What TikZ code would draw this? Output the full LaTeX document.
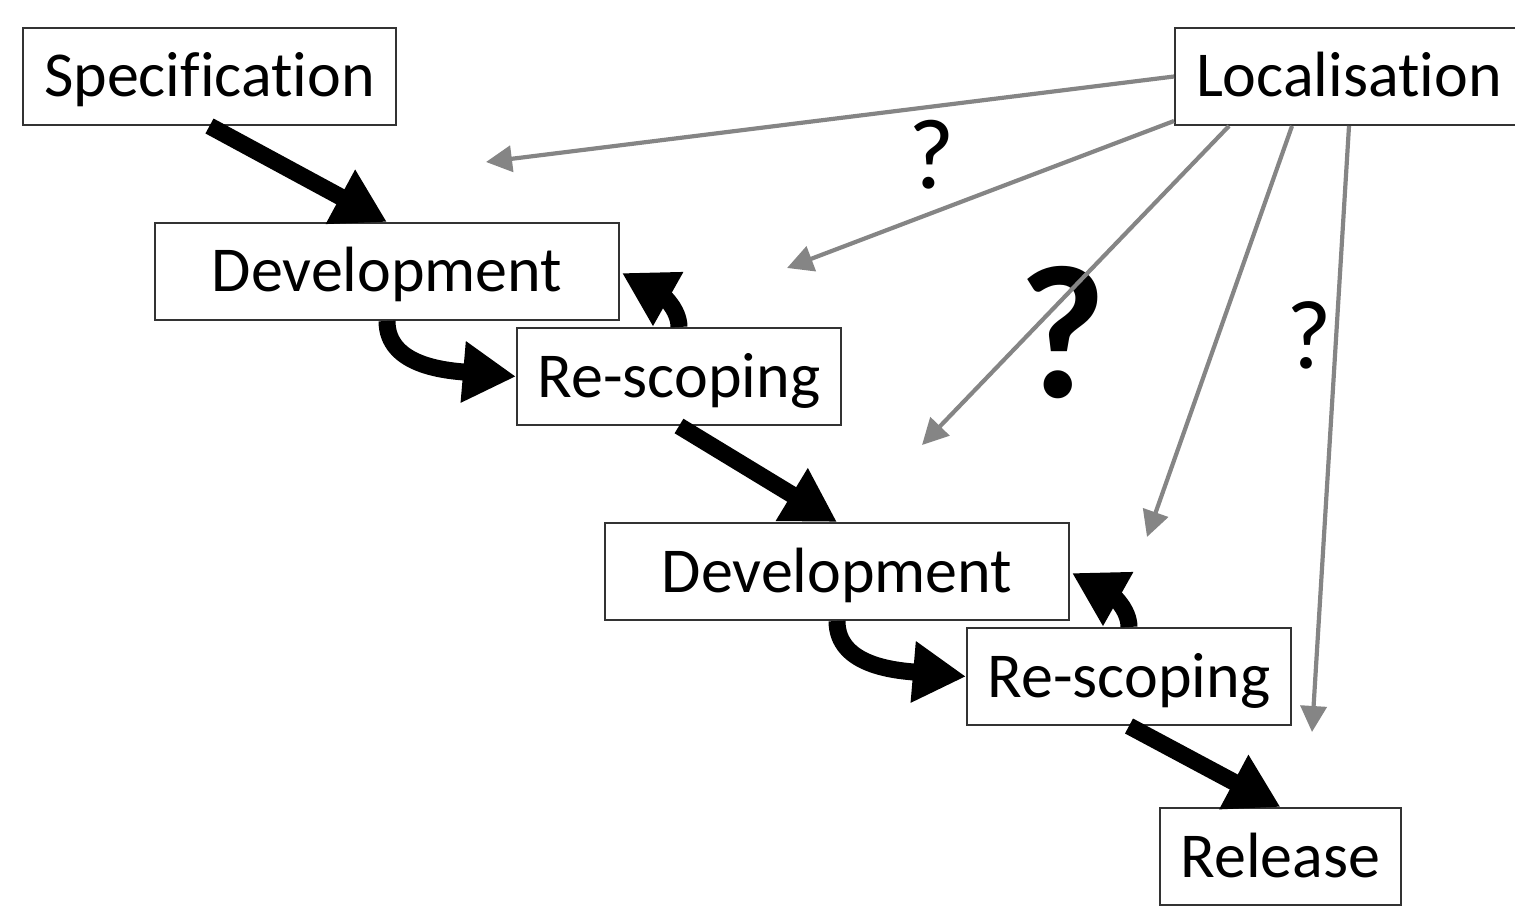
\documentclass[tikz,border=0pt]{standalone}
\usepackage{fontspec}
\setmainfont[Ligatures=NoCommon]{Carlito}
\usetikzlibrary{arrows.meta,calc}
\tikzset{
  box/.style={draw=black!80, line width=2pt, minimum height=97pt, inner sep=0pt,
    text height=50pt, text depth=9pt,
    font=\fontsize{64}{72}\selectfont},
  bigarrow/.style={line width=17pt, -{Triangle[length=53pt,width=58pt]}},
  greyarrow/.style={draw=black!48, line width=4.2pt, -{Triangle[length=26pt,width=26pt]}, color=black!48},
  qmark/.style={inner sep=0pt, anchor=center},
}
\begin{document}
\begin{tikzpicture}[x=1pt,y=-1pt]
\useasboundingbox (0,0) rectangle (1515,909);
% boxes
\node[box, minimum width=373pt] (spec) at (209.5,76.5) {Specification};
\node[box, minimum width=348pt] (loc) at (1349,76.5) {Localisation};
\node[box, minimum width=464pt] (dev1) at (387,271.5) {Development};
\node[box, minimum width=324pt] (rs1) at (679,376.5) {Re-scoping};
\node[box, minimum width=464pt] (dev2) at (837,571.5) {Development};
\node[box, minimum width=324pt] (rs2) at (1129,676.5) {Re-scoping};
\node[box, minimum width=241pt] (rel) at (1280.5,856.5) {Release};
% question marks
\node[qmark, font=\fontsize{100}{110}\selectfont] (q1) at (932,155) {?};
\node[qmark, font=\fontsize{190}{210}\selectfont\bfseries] (q2) at (1063,333) {?};
\node[qmark, font=\fontsize{98}{108}\selectfont] (q3) at (1309,335) {?};
% black flow arrows
\draw[bigarrow] (spec.south) -- (dev1.north);
\draw[bigarrow] (dev1.south) .. controls ($(dev1.south)+(0,45)$) and ($(rs1.west)+(-70,-6)$) .. (rs1.west);
\draw[bigarrow] (rs1.north) .. controls ($(rs1.north)+(0,-18)$) and ($(dev1.east)+(42,24)$) .. ($(dev1.east)+(2,1.5)$);
\draw[bigarrow] (rs1.south) -- (dev2.north);
\draw[bigarrow] (dev2.south) .. controls ($(dev2.south)+(0,45)$) and ($(rs2.west)+(-70,-6)$) .. (rs2.west);
\draw[bigarrow] (rs2.north) .. controls ($(rs2.north)+(0,-18)$) and ($(dev2.east)+(42,24)$) .. ($(dev2.east)+(2,1.5)$);
\draw[bigarrow] (rs2.south) -- (rel.north);
% grey localisation arrows
\coordinate (ea) at (486,162);
\coordinate (eb) at (787,268);
\coordinate (ec) at (922,445);
\coordinate (ed) at (1147,537);
\coordinate (ee) at (1312,732);
\draw[greyarrow] (loc.west) -- (ea);
\draw[greyarrow] ($(loc.south west)+(0,-5)$) -- (eb);
\draw[greyarrow] ($(loc.south west)+(55,0)$) -- (ec);
\draw[greyarrow] ($(loc.south west)+(118,0)$) -- (ed);
\draw[greyarrow] ($(loc.south west)+(175,0)$) -- (ee);
\end{tikzpicture}
\end{document}
